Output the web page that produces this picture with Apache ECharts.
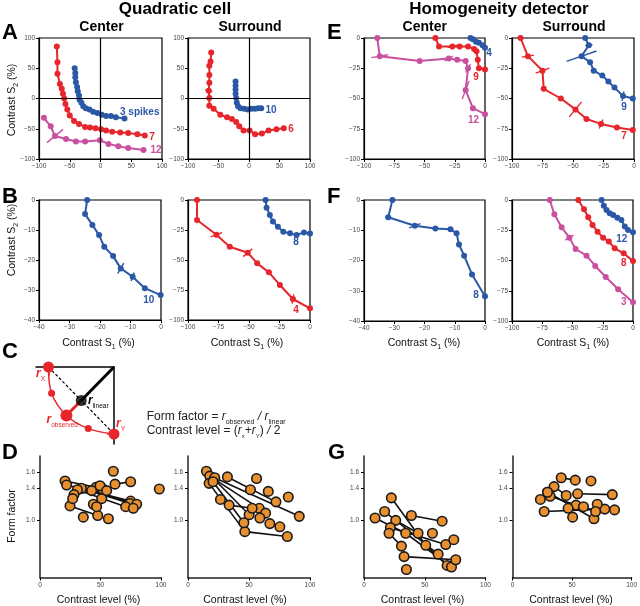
<!DOCTYPE html>
<html><head><meta charset="utf-8">
<script src="https://cdn.jsdelivr.net/npm/echarts@6/dist/echarts.min.js"></script>
<style>html,body{margin:0;padding:0;background:#fff}#c{width:640px;height:606px}</style>
</head><body><div id="c"></div>
<script>
// ---------------- DATA ----------------
// Axis ranges [min, max, interval]
const ticksA = [-100, 100, 50];
const ticksE = [-100, 0, 25];
const ticksB40 = [-40, 0, 10];
const ticksLevel = [0, 100, 50];
const ffRange = [0.29, 1.8];
const ffTicks = [1.0, 1.4, 1.6];

// Panel A, Center (quadratic cell)
const aCenterBlue = [[-42,50],[-41,42],[-41,35],[-40,27],[-38,19],[-37,12],[-35,5],[-34,-2],[-31,-7],[-28,-13],[-24,-16],[-18,-18],[-12,-22],[-5,-24],[2,-27],[9,-29],[17,-29],[25,-31],[39,-33]];
const aCenterRed = [[-71,86],[-70,60],[-70,41],[-66,24],[-63,16],[-61,8],[-59,0],[-57,-9],[-54,-18],[-50,-28],[-43,-37],[-35,-42],[-25,-47],[-17,-48],[-8,-49],[1,-51],[9,-53],[19,-55],[32,-56],[45,-57],[60,-59],[72,-61]];
const aCenterMag = [[-92,-32],[-81,-46],[-74,-62],[-56,-67],[-40,-71],[-25,-71],[-1,-69],[13,-75],[29,-79],[45,-82],[70,-85]];
const aCenterMagErr = [[2,17]];
// Panel A, Surround
const aSurRed = [[-62,76],[-63,61],[-65,54],[-65,39],[-65,26],[-66,13],[-65,1],[-65,-12],[-58,-17],[-47,-27],[-36,-31],[-28,-34],[-21,-39],[-16,-46],[-9,-53],[1,-53],[10,-59],[21,-58],[32,-53],[45,-51],[57,-49]];
const aSurRedErr = [[5,6]];
const aSurBlue = [[-22,28],[-22,21],[-22,15],[-22,8],[-21,1],[-20,-7],[-18,-13],[-14,-16],[-8,-17],[-2,-18],[4,-17],[10,-17],[15,-16],[20,-16]];

// Panel E, Center (homogeneity detector)
const eCenterMag = [[-89,0],[-87,-15],[-54,-19],[-30,-17],[-23,-18],[-16,-19],[-14,-25],[-16,-43],[-10,-58],[0,-63]];
const eCenterMagErr = [[1,7],[3,4],[6,4],[7,8]];
const eCenterRed = [[-41,0],[-38,-7],[-27,-7],[-21,-7],[-14,-7],[-9,-9],[-7,-11],[-6,-18],[-5,-25],[0,-26]];
const eCenterRedErr = [[2,4]];
const eCenterBlue = [[-12,0],[-10,-1],[-7.5,-3],[-5,-4],[-2,-6],[0,-8]];
// Panel E, Surround
const eSurRed = [[-93,0],[-87,-15],[-75,-27],[-74,-42],[-60,-50],[-48,-59],[-39,-67],[-27,-71],[-14,-74],[-1,-76]];
const eSurRedErr = [[1,5],[2,6],[5,8],[7,4]];
const eSurBlue = [[-40,0],[-37,-6],[-43,-15],[-36,-20],[-33,-27],[-26,-31],[-21,-36],[-16,-41],[-9,-48],[-1,-50]];
const eSurBlueErr = [[1,3],[2,13],[8,4]];

// Panel B
const bCenterBlue = [[-24.2,0],[-24.9,-4.7],[-22.5,-8.3],[-20.3,-11.7],[-18.6,-15.6],[-15.7,-18.7],[-13.2,-22.8],[-9.3,-25.6],[-5.3,-29.4],[-0.1,-31.7]];
const bCenterBlueErr = [[6,2],[7,1.5]];
const bSurRed = [[-92.6,0],[-92.6,-16.7],[-76.7,-29],[-65.8,-38.9],[-51,-43.9],[-43.3,-52.8],[-33.7,-60.3],[-24.7,-70.8],[-14,-82.5],[0,-90.3]];
const bSurRedErr = [[2,5],[4,5],[8,4]];
const bSurBlue = [[-36.4,0],[-35.6,-6.4],[-32.9,-12.5],[-30.4,-18],[-26.3,-22.2],[-21.9,-26.4],[-16.4,-27.8],[-11,-29.2],[-4.9,-27],[0,-28]];

// Panel F
const fCenterBlue = [[-30.6,0],[-32,-5.7],[-23.2,-8.5],[-16.4,-9.4],[-11.4,-9.7],[-9.4,-11],[-8.6,-14.7],[-6.9,-18.4],[-4.3,-24.6],[0,-31.8]];
const fCenterBlueErr = [[1,1],[2,2]];
const fSurMag = [[-68.8,0],[-65,-11.8],[-59,-22.6],[-52.6,-31.1],[-47.4,-40.5],[-38.4,-46],[-31.2,-54.5],[-22.5,-63.6],[-12.3,-73.8],[0,-84.6]];
const fSurMagErr = [[3,4]];
const fSurRed = [[-45.2,0],[-40.5,-7.7],[-37,-14.3],[-33.4,-20.7],[-29.3,-26.2],[-24.7,-31.1],[-20,-34.4],[-15.1,-39.9],[-7.7,-44.1],[0,-50.4]];
const fSurBlue = [[-26,0],[-24.1,-4.7],[-21.9,-8.3],[-19.2,-11],[-16.4,-12.4],[-12.9,-14.6],[-9.6,-16.5],[-6.8,-22],[-4.1,-24.8],[0,-26.7]];

// Panel C schematic (corner at origin)
const cCurve = [[-0.84,0],[-0.80,-0.34],[-0.61,-0.63],[-0.33,-0.80],[0,-0.87]];
const cRxTick = 0.12;
const cRyTick = 0.09;

// Panel D (form factor vs contrast level): connected cells, and lone points
const dCenterCells = [
  [[20.7,1.49],[46.3,1.41]],
  [[22.0,1.44],[74.9,1.24]],
  [[34.2,1.40],[74.4,1.21]],
  [[30.9,1.38],[70.8,1.17]],
  [[42.7,1.37],[79.9,1.20]],
  [[62.0,1.45],[74.9,1.48]],
  [[24.8,1.18],[47.7,1.06]],
  [[28.1,1.32],[51.8,1.39]]
];
const dCenterSingles = [[27.0,1.27],[35.8,1.04],[44.1,1.20],[46.8,1.17],[56.5,1.02],[49.6,1.43],[51.0,1.27],[55.1,1.37],[60.6,1.61],[77.1,1.15],[98.6,1.39]];
const dSurCells = [
  [[15.1,1.61],[50.1,1.07]],
  [[17.8,1.55],[58.4,1.15]],
  [[21.9,1.53],[91.2,1.05]],
  [[17.3,1.46],[46.6,0.86],[81.4,0.80]],
  [[20.5,1.48],[45.8,0.97]],
  [[32.3,1.54],[72.1,1.23]],
  [[33.7,1.19],[52.6,1.15]]
];
const dSurSingles = [[56.2,1.52],[51.2,1.38],[65.8,1.36],[82.2,1.29],[26.6,1.26],[63.6,1.09],[58.9,1.03],[67.1,0.96],[75.3,0.92]];
// Panel G
const gCenterCells = [
  [[22.5,1.28],[50.8,0.69],[68.4,0.44]],
  [[9.1,1.03],[34.3,0.84],[72.0,0.42]],
  [[17.0,1.11],[61.0,0.58]],
  [[39.0,1.06],[64.3,0.99]],
  [[26.1,1.00],[44.5,0.84]],
  [[21.7,0.91],[67.3,0.70]],
  [[33.0,0.55],[75.5,0.51]],
  [[20.6,0.84],[30.8,0.68]]
];
const gCenterSingles = [[34.9,0.39],[56.3,0.84],[73.9,0.76]];
const gSurCells = [
  [[40.9,1.53],[52.7,1.50]],
  [[34.9,1.42],[45.1,1.31]],
  [[54.7,1.33],[83.8,1.32]],
  [[29.4,1.35],[68.4,1.02]],
  [[26.6,1.11],[77.5,1.14]],
  [[31.6,1.30],[53.3,1.19]],
  [[46.7,1.15],[85.7,1.13]],
  [[23.4,1.26],[29.4,1.35]]
];
const gSurSingles = [[65.9,1.49],[59.6,1.17],[50.5,1.04],[71.2,1.20],[69.8,1.11]];

// ---------------- BUILD ----------------
const RED = '#e6262c', BLUE = '#2b58a6', MAG = '#c9509f', ORANGE = '#e8902f';
const FONT = '"Liberation Sans", Arial, Helvetica, sans-serif';
const grids = [], xAxes = [], yAxes = [], series = [], graphics = [];
const fmt = v => String(v).replace('-', '\u2212');

function axisOf(gi, r, extra) {
  return Object.assign({
    gridIndex: gi, type: 'value', min: r[0], max: r[1], interval: r[2],
    axisLine: {show: true, onZero: false, lineStyle: {color: '#000', width: 1.2}},
    axisTick: {show: true, length: 3, lineStyle: {color: '#000', width: 1}},
    axisLabel: {fontSize: 6.5, color: '#444', margin: 4, formatter: fmt, fontFamily: FONT},
    splitLine: {show: false}
  }, extra || {});
}
function boxGrid(L, T, W, H, xr, yr) {
  const gi = grids.length;
  grids.push({left: L, top: T, width: W, height: H, show: true, borderColor: '#000', borderWidth: 1.2, backgroundColor: 'rgba(0,0,0,0)'});
  xAxes.push(axisOf(gi, xr));
  yAxes.push(axisOf(gi, yr));
  return gi;
}
function levelGrid(L, T, W, H) {
  const gi = grids.length;
  grids.push({left: L, top: T, width: W, height: H});
  xAxes.push(axisOf(gi, ticksLevel, {axisLine: {show: true, onZero: false, lineStyle: {color: '#222', width: 1.5}}}));
  yAxes.push({
    gridIndex: gi, type: 'value', min: ffRange[0], max: ffRange[1],
    axisLine: {show: true, onZero: false, lineStyle: {color: '#222', width: 1.5}},
    axisTick: {show: true, length: 3, customValues: ffTicks, lineStyle: {color: '#000'}},
    axisLabel: {fontSize: 6.5, color: '#444', margin: 5, customValues: ffTicks, formatter: v => v.toFixed(1), fontFamily: FONT},
    splitLine: {show: false}
  });
  return gi;
}
function crosshair(gi) {
  series.push({type: 'scatter', xAxisIndex: gi, yAxisIndex: gi, data: [], z: 1,
    markLine: {silent: true, symbol: ['none', 'none'], label: {show: false}, animation: false,
      lineStyle: {color: '#000', width: 1.2, type: 'solid'}, data: [{xAxis: 0}, {yAxis: 0}]}});
}
function trace(gi, pts, color, errs) {
  series.push({type: 'line', xAxisIndex: gi, yAxisIndex: gi, data: pts, symbol: 'circle', symbolSize: 6,
    lineStyle: {color, width: 2}, itemStyle: {color}, z: 3, silent: true});
  if (errs) {
    series.push({type: 'lines', coordinateSystem: 'cartesian2d', xAxisIndex: gi, yAxisIndex: gi, z: 4, silent: true,
      lineStyle: {color, width: 1.4, opacity: 1},
      data: errs.map(([i, e]) => {
        const [x, y] = pts[i]; const r = Math.hypot(x, y); const ux = x / r, uy = y / r;
        return {coords: [[x - ux * e, y - uy * e], [x + ux * e, y + uy * e]]};
      })});
  }
}
function cells(gi, list, singles) {
  const segs = [], all = [];
  list.forEach(c => { c.forEach((p, i) => { all.push(p); if (i) segs.push({coords: [c[i - 1], p]}); }); });
  singles.forEach(p => all.push(p));
  series.push({type: 'lines', coordinateSystem: 'cartesian2d', xAxisIndex: gi, yAxisIndex: gi, z: 2, silent: true,
    lineStyle: {color: '#111', width: 1.6, opacity: 1}, data: segs});
  series.push({type: 'scatter', xAxisIndex: gi, yAxisIndex: gi, data: all, symbolSize: 9.5, z: 3, silent: true,
    itemStyle: {color: ORANGE, borderColor: '#1a1a1a', borderWidth: 1.6, opacity: 1}});
}
function txt(x, y, text, o) {
  o = o || {};
  graphics.push({type: 'text', x, y, rotation: o.rot || 0, silent: true, z: 100,
    style: Object.assign({text, fontFamily: FONT, fontSize: o.size || 10, fontWeight: o.bold ? 'bold' : 'normal',
      fontStyle: o.italic ? 'italic' : 'normal', fill: o.color || '#000', align: o.align || 'center', verticalAlign: 'middle'}, o.style || {})});
}
const subRich = (size, subSize, color, italicR) => ({
  a: {fontFamily: FONT, fontSize: size, lineHeight: size + 5, verticalAlign: 'middle', fill: color},
  r: {fontFamily: FONT, fontSize: size, lineHeight: size + 5, verticalAlign: 'middle', fill: color, fontStyle: 'italic', fontWeight: italicR ? 'bold' : 'normal'},
  b: {fontFamily: FONT, fontSize: subSize, lineHeight: subSize + 1, verticalAlign: 'bottom', fill: color}
});

// Grids
const gAL = boxGrid(39, 38, 123, 121, ticksA, ticksA);
const gAR = boxGrid(188, 38, 122, 121, ticksA, ticksA);
const gEL = boxGrid(364, 38, 121, 121, ticksE, ticksE);
const gER = boxGrid(512, 38, 122, 121, ticksE, ticksE);
const gBL = boxGrid(39, 200, 122, 120, ticksB40, ticksB40);
const gBR = boxGrid(188, 200, 122, 120, ticksE, ticksE);
const gFL = boxGrid(364, 200, 121, 121, ticksB40, ticksB40);
const gFR = boxGrid(512, 200, 121, 121, ticksE, ticksE);
const gDL = levelGrid(40, 456, 121, 121.5);
const gDR = levelGrid(188, 456, 122, 121.5);
const gGL = levelGrid(364, 456, 121.5, 121.5);
const gGR = levelGrid(512.5, 456, 121.5, 121.5);

// Panel C grid
const gC = grids.length;
grids.push({left: 36, top: 367, width: 78, height: 77});
xAxes.push({gridIndex: gC, type: 'value', min: -1, max: 0, position: 'top',
  axisLine: {show: true, onZero: false, lineStyle: {color: '#000', width: 1.5}}, axisTick: {show: false}, axisLabel: {show: false}, splitLine: {show: false}});
yAxes.push({gridIndex: gC, type: 'value', min: -1, max: 0, position: 'right',
  axisLine: {show: true, onZero: false, lineStyle: {color: '#000', width: 1.5}}, axisTick: {show: false}, axisLabel: {show: false}, splitLine: {show: false}});

crosshair(gAL); crosshair(gAR);
trace(gAL, aCenterMag, MAG, aCenterMagErr);
trace(gAL, aCenterRed, RED);
trace(gAL, aCenterBlue, BLUE);
trace(gAR, aSurRed, RED, aSurRedErr);
trace(gAR, aSurBlue, BLUE);
trace(gEL, eCenterMag, MAG, eCenterMagErr);
trace(gEL, eCenterRed, RED, eCenterRedErr);
trace(gEL, eCenterBlue, BLUE);
trace(gER, eSurRed, RED, eSurRedErr);
trace(gER, eSurBlue, BLUE, eSurBlueErr);
trace(gBL, bCenterBlue, BLUE, bCenterBlueErr);
trace(gBR, bSurRed, RED, bSurRedErr);
trace(gBR, bSurBlue, BLUE);
trace(gFL, fCenterBlue, BLUE, fCenterBlueErr);
trace(gFR, fSurMag, MAG, fSurMagErr);
trace(gFR, fSurRed, RED);
trace(gFR, fSurBlue, BLUE);
cells(gDL, dCenterCells, dCenterSingles);
cells(gDR, dSurCells, dSurSingles);
cells(gGL, gCenterCells, gCenterSingles);
cells(gGR, gSurCells, gSurSingles);

// Panel C series
const cRx = cCurve[0], cRy = cCurve[cCurve.length - 1], cObs = cCurve[2];
const cLin = [(cRx[0] + cRy[0]) / 2, (cRx[1] + cRy[1]) / 2];
const cBase = {xAxisIndex: gC, yAxisIndex: gC, silent: true, symbol: 'none'};
series.push(Object.assign({type: 'line', data: [cRx, cRy], lineStyle: {color: '#000', width: 1.2, type: [3, 2]}, z: 2}, cBase));
series.push(Object.assign({type: 'line', data: [[0, 0], cLin], lineStyle: {color: '#000', width: 3}, z: 2}, cBase));
series.push(Object.assign({type: 'line', data: [cLin, cObs], lineStyle: {color: RED, width: 3}, z: 2}, cBase));
series.push({type: 'line', xAxisIndex: gC, yAxisIndex: gC, silent: true, data: cCurve, smooth: 0.35, symbol: 'circle',
  symbolSize: (v, p) => [11, 7, 12, 7, 11][p.dataIndex], lineStyle: {color: RED, width: 1.5}, itemStyle: {color: RED}, z: 3});
series.push({type: 'scatter', xAxisIndex: gC, yAxisIndex: gC, silent: true, data: [cLin], symbolSize: 11, itemStyle: {color: '#000'}, z: 4});
series.push({type: 'lines', coordinateSystem: 'cartesian2d', xAxisIndex: gC, yAxisIndex: gC, silent: true, z: 3,
  lineStyle: {color: RED, width: 1.5, opacity: 1},
  data: [{coords: [[cRx[0], cRx[1] + cRxTick], [cRx[0], cRx[1] - cRxTick]]}, {coords: [[cRy[0] - cRyTick, cRy[1]], [cRy[0] + cRyTick, cRy[1]]]}]});

// ---------------- TEXT ----------------
txt(175, 9, 'Quadratic cell', {size: 17, bold: true});
txt(499, 9, 'Homogeneity detector', {size: 17, bold: true});
txt(101.5, 27, 'Center', {size: 14, bold: true});
txt(250, 27, 'Surround', {size: 14, bold: true});
txt(424.7, 27, 'Center', {size: 14, bold: true});
txt(574, 27, 'Surround', {size: 14, bold: true});
[['A', 2, 33], ['E', 327, 33], ['B', 2, 197], ['F', 327, 197], ['C', 2, 352], ['D', 2, 453], ['G', 328, 453]]
  .forEach(([t, x, y]) => txt(x, y, t, {size: 22, bold: true, align: 'left'}));

const s2 = '{a|Contrast S}{b|2}{a| (%)}';
txt(12, 100, s2, {rot: Math.PI / 2, style: {rich: subRich(10.5, 7, '#111')}});
txt(12, 240, s2, {rot: Math.PI / 2, style: {rich: subRich(10.5, 7, '#111')}});
txt(12, 516, 'Form factor', {rot: Math.PI / 2, size: 10.5, color: '#111'});
const s1 = '{a|Contrast S}{b|1}{a| (%)}';
[98.5, 247, 424, 573].forEach(x => txt(x, 343, s1, {style: {rich: subRich(10.5, 7, '#111')}}));
[98.5, 245, 422.5, 571].forEach(x => txt(x, 600, 'Contrast level (%)', {size: 10.5, color: '#111'}));

// series labels
[['3 spikes', 120, 112, BLUE, 'left'], ['7', 152, 137, RED], ['12', 156, 150, MAG],
 ['10', 271, 110, BLUE], ['6', 291, 129, RED],
 ['4', 489, 53, BLUE], ['9', 476, 77, RED], ['12', 473.5, 120, MAG],
 ['9', 624, 107, BLUE], ['7', 624, 136, RED],
 ['10', 148.7, 300, BLUE], ['8', 296, 242, BLUE], ['4', 296, 310, RED],
 ['8', 476, 295, BLUE], ['12', 621.7, 239, BLUE], ['8', 623.7, 263, RED], ['3', 623.7, 302, MAG]]
  .forEach(([t, x, y, c, al]) => txt(x, y, t, {size: 10, bold: true, color: c, align: al || 'center'}));

// panel C labels
txt(36, 374, '{r|r}{b|X}', {align: 'left', style: {rich: subRich(12, 7, RED, true)}});
txt(88, 401, '{r|r}{b|linear}', {align: 'left', style: {rich: subRich(12, 6.5, '#000', true)}});
txt(46.5, 420, '{r|r}{b|observed}', {align: 'left', style: {rich: subRich(12, 6.5, RED, true)}});
txt(116, 424, '{r|r}{b|Y}', {align: 'left', style: {rich: subRich(12, 7, RED, true)}});
txt(146.7, 416.7, '{a|Form factor = }{r|r}{b|observed}{r| / r}{b|linear}', {align: 'left', style: {rich: subRich(12, 7, '#222', false)}});
txt(146.7, 430.5, '{a|Contrast level = (}{r|r}{b|x}{a|+}{r|r}{b|Y}{a|) }{r|/}{a| 2}', {align: 'left', style: {rich: subRich(12, 6, '#222', false)}});

const chart = echarts.init(document.getElementById('c'), null, {renderer: 'canvas'});
chart.setOption({animation: false, textStyle: {fontFamily: FONT}, grid: grids, xAxis: xAxes, yAxis: yAxes, series, graphic: {elements: graphics}});
</script>
</body></html>
